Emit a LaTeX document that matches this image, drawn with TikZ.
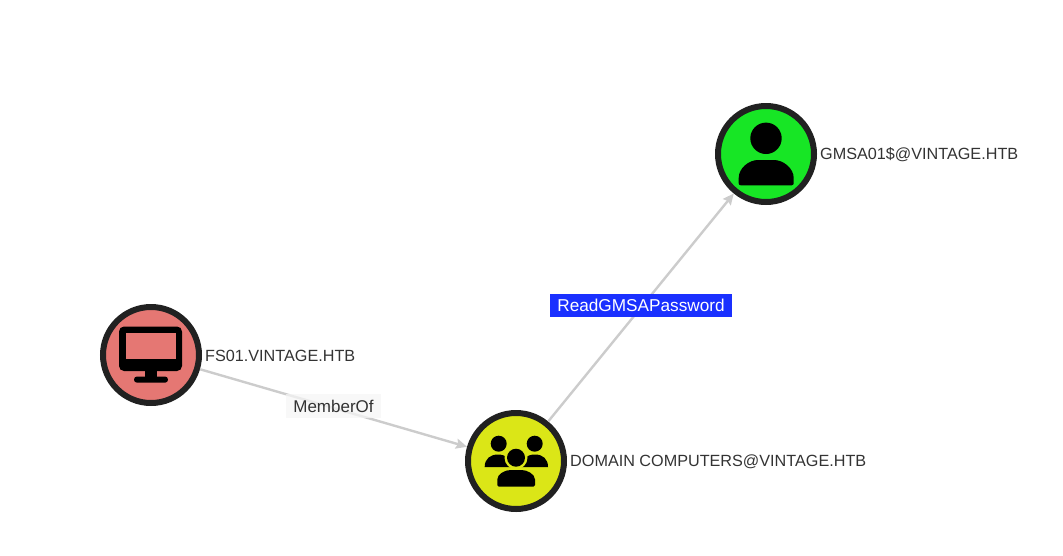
\documentclass[tikz,border=0pt]{standalone}
\usepackage{fontspec}
\setmainfont{Liberation Sans}
\usetikzlibrary{arrows.meta}
\usetikzlibrary{positioning}

\definecolor{ringcol}{HTML}{212121}
\definecolor{computercol}{HTML}{E57773}
\definecolor{groupcol}{HTML}{DBE617}
\definecolor{usercol}{HTML}{17E625}
\definecolor{edgecol}{HTML}{CCCCCC}
\definecolor{textcol}{HTML}{333333}
\definecolor{privcol}{HTML}{1A30FF}

\tikzset{
	entity/.style={circle, draw=ringcol, line width=6pt, minimum size=96pt, inner sep=0pt},
	entitytext/.style={right=0pt of #1, yshift=-0.7pt, inner sep=3pt, text=textcol, font=\fontsize{16.2}{18}\selectfont},
	rel/.style={-{Stealth[length=11pt, width=10pt, inset=1.5pt]}, draw=edgecol, line width=2.4pt},
	memberlabel/.style={fill=black!4, fill opacity=0.75, text opacity=1, text=textcol, font=\fontsize{17}{18}\selectfont, minimum width=95pt, minimum height=24pt, inner sep=0pt},
	privlabel/.style={fill=privcol, text=white, font=\fontsize{17.2}{18}\selectfont, minimum width=182pt, minimum height=23pt, inner sep=0pt}
}

\begin{document}
\begin{tikzpicture}[x=1pt, y=-1pt]
	\useasboundingbox (0,0) rectangle (1063,555);
	\node [entity, fill=computercol] (fs01) at (151,355) {};
	\node [entity, fill=groupcol] (domcomp) at (516,461) {};
	\node [entity, fill=usercol] (gmsa) at (766,154) {};
	\node [entitytext=fs01] (fs01text) {FS01.VINTAGE.HTB};
	\node [entitytext=domcomp] (domcomptext) {DOMAIN COMPUTERS@VINTAGE.HTB};
	\node [entitytext=gmsa] (gmsatext) {GMSA01\$@VINTAGE.HTB};
	\draw [rel] (fs01) -- (domcomp);
	\draw [rel] (domcomp) -- (gmsa);
	\node [memberlabel] (memberof) at (333.5,406) {MemberOf};
	\node [privlabel] (readgmsa) at (641,305.5) {ReadGMSAPassword};
	% monitor
	\begin{scope}[shift={(fs01.center)}]
		\fill [rounded corners=5pt] (-32,-28.5) rectangle (31,16);
		\fill [computercol] (-25,-22) rectangle (25,3.5);
		\fill (-6,15) rectangle (6,23);
		\fill [rounded corners=3pt] (-17,21.5) rectangle (17,27.7);
	\end{scope}
	% three people
	\begin{scope}[shift={(domcomp.center)}]
		\fill (-17.3,-17.3) circle (8);
		\fill (18.7,-17.3) circle (8);
		\fill (-31.3,6) .. controls (-31.3,-2) and (-26,-6.5) .. (-18,-6.5) .. controls (-10,-6.5) and (-5,-2) .. (-5,6) -- cycle;
		\fill (32,6) .. controls (32,-2) and (27,-6.5) .. (19,-6.5) .. controls (11,-6.5) and (5,-2) .. (5,6) -- cycle;
		\fill [groupcol] (0,-3.3) circle (11.5);
		\fill (0,-3.3) circle (9);
		\fill [rounded corners=1.5pt] (-18.7,25.7) -- (19,25.7) -- (19,20) .. controls (19,13) and (11,9) .. (4,9) -- (-4,9) .. controls (-11,9) and (-18.7,13) .. (-18.7,20) -- cycle;
	\end{scope}
	% person
	\begin{scope}[shift={(gmsa.center)}]
		\fill (0,-15.7) circle (15.7);
		\fill [rounded corners=2pt] (-27.3,31.3) -- (27.7,31.3) -- (27.7,26) .. controls (27.7,14) and (17,6) .. (6,6) -- (-6,6) .. controls (-17,6) and (-27.3,14) .. (-27.3,26) -- cycle;
	\end{scope}
\end{tikzpicture}
\end{document}
